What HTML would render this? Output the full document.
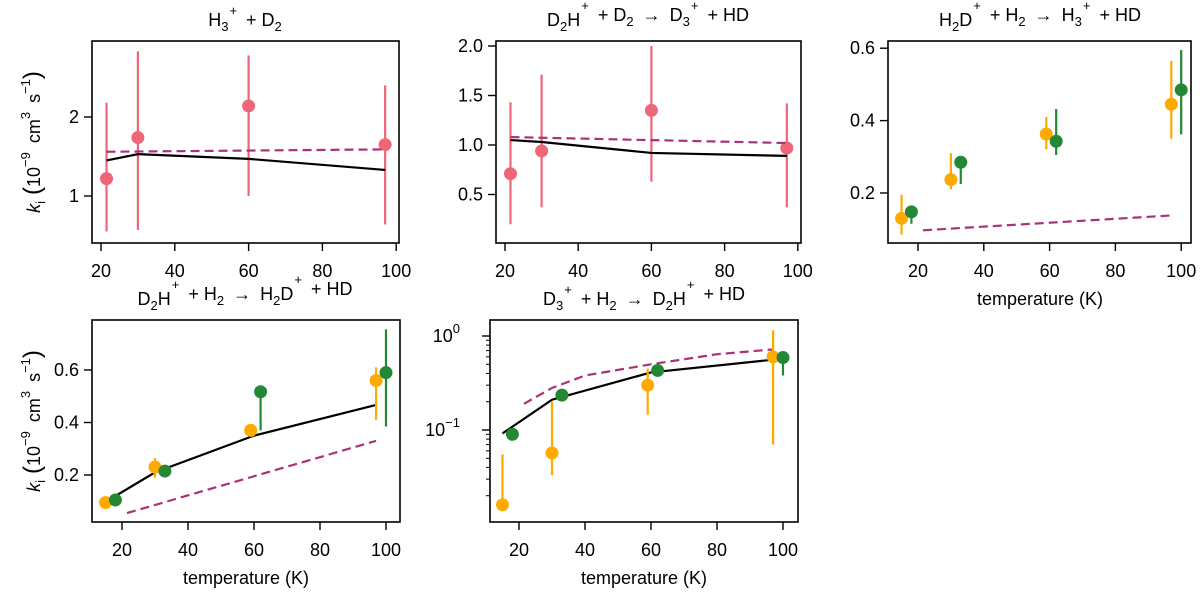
<!DOCTYPE html>
<html><head><meta charset="utf-8"><style>
body{margin:0;background:#fff}
svg{display:block;font-family:"Liberation Sans","DejaVu Sans",sans-serif}
</style></head><body>
<svg id="c" width="1200" height="592" viewBox="0 0 1200 592"></svg>
<script>
// ---- data ----
const p1ExpT=[21.5,30,60,97];
const p1ExpK=[1.22,1.74,2.14,1.65];
const p1ExpLo=[0.55,0.57,1.0,0.64];
const p1ExpHi=[2.18,2.83,2.78,2.4];
const p1ModelT=[21.5,30,60,97];
const p1ModelK=[1.45,1.53,1.47,1.33];
const p1TheoT=[21.5,97];
const p1TheoK=[1.56,1.59];

const p2ExpT=[21.5,30,60,97];
const p2ExpK=[0.71,0.94,1.35,0.97];
const p2ExpLo=[0.2,0.37,0.63,0.37];
const p2ExpHi=[1.43,1.71,2.0,1.42];
const p2ModelT=[21.5,30,60,97];
const p2ModelK=[1.05,1.03,0.92,0.89];
const p2TheoT=[21.5,97];
const p2TheoK=[1.08,1.02];

const p3OrT=[15,30,59,97];
const p3OrK=[0.13,0.237,0.363,0.445];
const p3OrLo=[0.085,0.21,0.32,0.35];
const p3OrHi=[0.195,0.31,0.41,0.565];
const p3GrT=[18,33,62,100];
const p3GrK=[0.148,0.285,0.343,0.485];
const p3GrLo=[0.115,0.225,0.305,0.362];
const p3GrHi=[0.148,0.285,0.432,0.595];
const p3TheoT=[21.5,97];
const p3TheoK=[0.097,0.138];

const p4OrT=[15,30,59,97];
const p4OrK=[0.095,0.23,0.37,0.56];
const p4OrLo=[0.095,0.19,0.37,0.41];
const p4OrHi=[0.095,0.265,0.37,0.61];
const p4GrT=[18,33,62,100];
const p4GrK=[0.105,0.215,0.517,0.59];
const p4GrLo=[0.105,0.215,0.37,0.385];
const p4GrHi=[0.105,0.215,0.517,0.755];
const p4ModelT=[18,30,45,60,97];
const p4ModelK=[0.12,0.21,0.28,0.35,0.467];
const p4TheoT=[21.5,97];
const p4TheoK=[0.055,0.33];

const p5OrT=[15,30,59,97];
const p5OrK=[0.016,0.057,0.30,0.6];
const p5OrLo=[0.016,0.033,0.145,0.07];
const p5OrHi=[0.055,0.2,0.45,1.15];
const p5GrT=[18,33,62,100];
const p5GrK=[0.09,0.235,0.43,0.59];
const p5GrLo=[0.09,0.235,0.43,0.38];
const p5GrHi=[0.09,0.235,0.43,0.59];
const p5ModelT=[15,30,60,97];
const p5ModelK=[0.092,0.21,0.41,0.56];
const p5TheoT=[21.5,30,40,60,80,97];
const p5TheoK=[0.19,0.28,0.38,0.5,0.64,0.72];

const xTicks=[20,40,60,80,100];
const p1YTicks=[1,2];
const p2YTicks=[0.5,1.0,1.5,2.0];
const p2YLabels=["0.5","1.0","1.5","2.0"];
const p3YTicks=[0.2,0.4,0.6];
const p4YTicks=[0.2,0.4,0.6];
const p5YTicks=[0.1,1];

const RED="#ee6677",OR="#ffaa00",GR="#228833",PUR="#aa3377";
const svg=document.getElementById('c');
const NS="http://www.w3.org/2000/svg";
function mk(tag,attrs,parent){const e=document.createElementNS(NS,tag);for(const k in attrs)e.setAttribute(k,attrs[k]);(parent||svg).appendChild(e);return e;}

function panel(cfg){
  const g=mk('g',{});
  
  
  const {L,R,T,B}=cfg;
  const sx=t=>cfg.x0px+(t-20)*cfg.pxK;
  const sy=cfg.log?(v=>cfg.y1px-(Math.log10(v)-cfg.ya)*cfg.ypx):(v=>cfg.y1px-(v-cfg.ya)*cfg.ypx);
  const fr=mk('rect',{x:L,y:T,width:R-L,height:B-T,fill:'none',stroke:'#000','stroke-width':1.6},g);
  
  
  xTicks.forEach(t=>{
    const x=sx(t);
    mk('line',{x1:x,x2:x,y1:B,y2:B+8,stroke:'#000','stroke-width':1.4},g);
    const tx=mk('text',{x:x,y:B+34,'font-size':18,'text-anchor':'middle'},g);
    tx.textContent=t;
    
    
  });
  cfg.yTicks.forEach((v,i)=>{
    const y=sy(v);
    mk('line',{x1:L-8,x2:L,y1:y,y2:y,stroke:'#000','stroke-width':1.4},g);
    const tx=mk('text',{x:L-13,y:y+6,'font-size':18,'text-anchor':'end'},g);
    
    
    if(cfg.log){
      const e=Math.round(Math.log10(v));
      tx.setAttribute('x',L-30);
      tx.textContent='10';
      const s=mk('tspan',{dy:-9,'font-size':13},tx);s.textContent=e===0?'0':'\u22121';
    } else tx.textContent=cfg.yLabels?cfg.yLabels[i]:String(v);
  });
  if(cfg.log){
    for(let d=-2;d<=0;d++)for(let m=2;m<=9;m++){
      const v=m*Math.pow(10,d);const y=sy(v);
      if(y>T&&y<B)mk('line',{x1:L-4,x2:L,y1:y,y2:y,stroke:'#000','stroke-width':1},g);
    }
  }
  const line=(ts,ks,col,dash,nm)=>{
    const pts=ts.map((t,i)=>sx(t)+','+sy(ks[i])).join(' ');
    const p=mk('polyline',{points:pts,fill:'none',stroke:col,'stroke-width':2.2},g);
    if(dash)p.setAttribute('stroke-dasharray','9,5');
    
    
  };
  const pts=(ts,ks,lo,hi,col,nm)=>{
    ts.forEach((t,i)=>{
      const x=sx(t);
      const eb=mk('line',{x1:x,x2:x,y1:sy(lo[i]),y2:sy(hi[i]),stroke:col,'stroke-width':2.2},g);
      
      
      const c=mk('circle',{cx:x,cy:sy(ks[i]),r:6.5,fill:col},g);
      
      
    });
  };
  cfg.draw(line,pts);
}

function title(x,y,parts,nm){
  const t=mk('text',{x:x,y:y,'font-size':18,'text-anchor':'middle'});
  
  
  parts.forEach(p=>{
    const s=mk('tspan',{},t);
    s.textContent=p[0];
    if(p[1]==='sub'){s.setAttribute('dy',5);s.setAttribute('font-size',13);}
    else if(p[1]==='sup'){s.setAttribute('dy',-16);s.setAttribute('font-size',13);s.setAttribute('dx',1);}
    else if(p[1]==='back'){s.setAttribute('dy',11);}
    else if(p[1]==='back2'){s.setAttribute('dy',-5);}
  });
}
function ylab(x,y,nm){
  const t=mk('text',{transform:`translate(${x},${y}) rotate(-90)`,'font-size':18,'text-anchor':'middle'});
  
  
  const a=mk('tspan',{'font-style':'italic'},t);a.textContent='k';
  const b=mk('tspan',{dy:5,'font-size':13},t);b.textContent='i';
  const c=mk('tspan',{dy:-5,dx:6,'font-size':24},t);c.textContent='(';
  const d=mk('tspan',{},t);d.textContent='10';
  const e=mk('tspan',{dy:-10,'font-size':13},t);e.textContent='\u22129';
  const f=mk('tspan',{dy:10},t);f.textContent='\u2002cm';
  const h=mk('tspan',{dy:-10,'font-size':13},t);h.textContent='3';
  const i=mk('tspan',{dy:10},t);i.textContent='\u2002s';
  const j=mk('tspan',{dy:-10,'font-size':13},t);j.textContent='\u22121';
  const k=mk('tspan',{dy:10,'font-size':24},t);k.textContent=')';
}
function xlab(x,y){
  const t=mk('text',{x:x,y:y,'font-size':18,'text-anchor':'middle'});
  
  
  t.textContent='temperature (K)';
}

panel({name:'panel-h3-d2',L:92,R:399,T:41,B:243,x0px:101,pxK:3.69,y1px:196,ya:1,ypx:79,yTicks:p1YTicks,
 draw:(line,pts)=>{pts(p1ExpT,p1ExpK,p1ExpLo,p1ExpHi,RED,'experiment');line(p1ModelT,p1ModelK,'#000',false,'model-line');line(p1TheoT,p1TheoK,PUR,true,'theory-line');}});
panel({name:'panel-d2h-d2',L:496,R:801,T:41,B:243,x0px:505,pxK:3.66,y1px:145,ya:1,ypx:99,yTicks:p2YTicks,yLabels:p2YLabels,
 draw:(line,pts)=>{pts(p2ExpT,p2ExpK,p2ExpLo,p2ExpHi,RED,'experiment');line(p2ModelT,p2ModelK,'#000',false,'model-line');line(p2TheoT,p2TheoK,PUR,true,'theory-line');}});
panel({name:'panel-h2d-h2',L:888,R:1191,T:41,B:243,x0px:918,pxK:3.29,y1px:193,ya:0.2,ypx:362,yTicks:p3YTicks,
 draw:(line,pts)=>{line(p3TheoT,p3TheoK,PUR,true,'theory-line');pts(p3OrT,p3OrK,p3OrLo,p3OrHi,OR,'orange-data');pts(p3GrT,p3GrK,p3GrLo,p3GrHi,GR,'green-data');}});
panel({name:'panel-d2h-h2',L:92,R:400,T:320,B:522,x0px:122,pxK:3.3,y1px:475,ya:0.2,ypx:262.5,yTicks:p4YTicks,
 draw:(line,pts)=>{line(p4TheoT,p4TheoK,PUR,true,'theory-line');line(p4ModelT,p4ModelK,'#000',false,'model-line');pts(p4OrT,p4OrK,p4OrLo,p4OrHi,OR,'orange-data');pts(p4GrT,p4GrK,p4GrLo,p4GrHi,GR,'green-data');}});
panel({name:'panel-d3-h2',L:490,R:798,T:320,B:522,x0px:519,pxK:3.3,y1px:430,ya:-1,ypx:94,log:true,yTicks:p5YTicks,
 draw:(line,pts)=>{line(p5TheoT,p5TheoK,PUR,true,'theory-line');line(p5ModelT,p5ModelK,'#000',false,'model-line');pts(p5OrT,p5OrK,p5OrLo,p5OrHi,OR,'orange-data');pts(p5GrT,p5GrK,p5GrLo,p5GrHi,GR,'green-data');}});

const ARR='\u2002\u2192\u2002';
title(245,26,[['H'],['3','sub'],['+','sup'],['\u2002+ D','back'],['2','sub']],'title-h3-d2');
title(648,26,[['D'],['2','sub'],['H','back2'],['+','sup'],['\u2002+ D','back'],['2','sub'],[ARR+'D','back2'],['3','sub'],['+','sup'],['\u2002+ HD','back']],'title-d2h-d2');
title(1040,26,[['H'],['2','sub'],['D','back2'],['+','sup'],['\u2002+ H','back'],['2','sub'],[ARR+'H','back2'],['3','sub'],['+','sup'],['\u2002+ HD','back']],'title-h2d-h2');
title(245,305,[['D'],['2','sub'],['H','back2'],['+','sup'],['\u2002+ H','back'],['2','sub'],[ARR+'H','back2'],['2','sub'],['D','back2'],['+','sup'],['\u2002+ HD','back']],'title-d2h-h2');
title(644,305,[['D'],['3','sub'],['+','sup'],['\u2002+ H','back'],['2','sub'],[ARR+'D','back2'],['2','sub'],['H','back2'],['+','sup'],['\u2002+ HD','back']],'title-d3-h2');

ylab(40,142,'y-axis-title-top');
ylab(40,421,'y-axis-title-bottom');
xlab(1040,305);
xlab(246,584);
xlab(644,584);
</script>
</body></html>
